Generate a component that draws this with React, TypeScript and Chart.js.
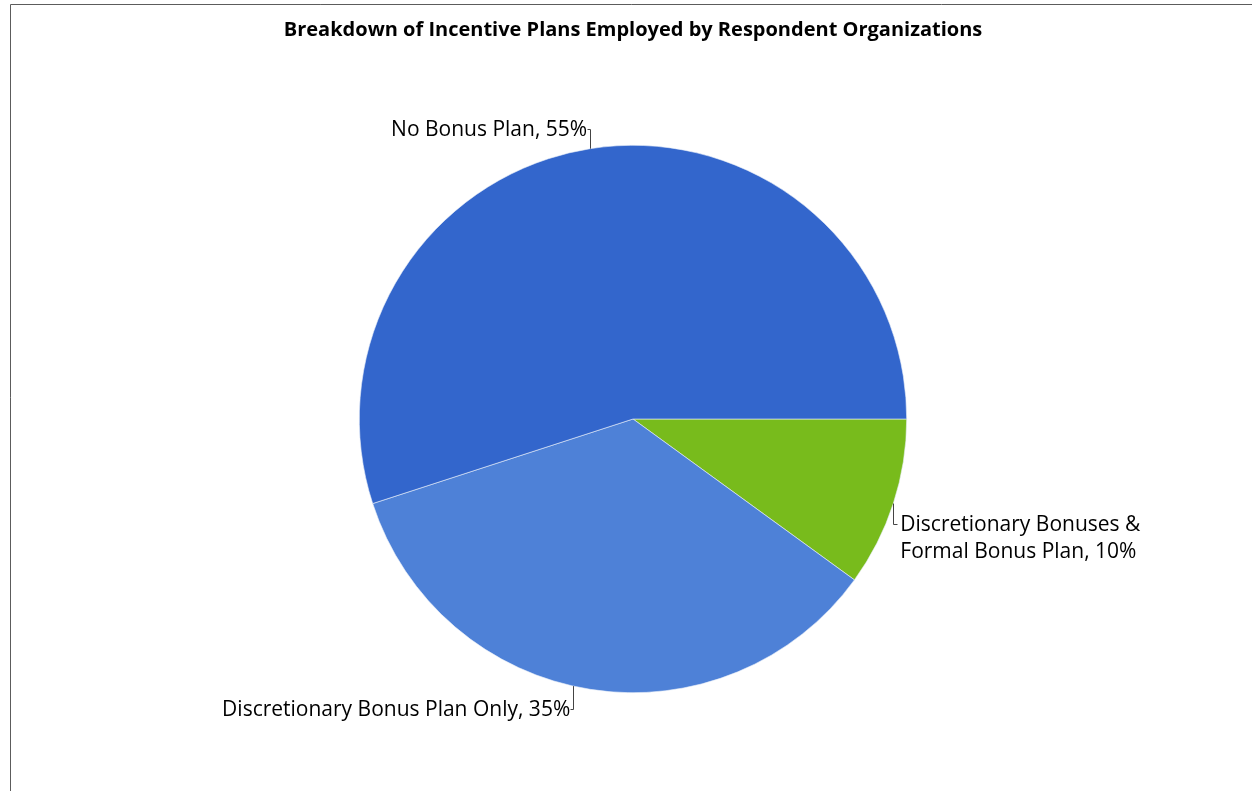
import React, { useEffect, useRef } from "react";
import { Chart, registerables } from "chart.js";

Chart.register(...registerables);

const TITLE = "Breakdown of Incentive Plans Employed by Respondent Organizations";
const categories = [
  "Discretionary Bonuses & Formal Bonus Plan",
  "Discretionary Bonus Plan Only",
  "No Bonus Plan",
];
const values = [10, 35, 55];
const labelLines = [
  ["Discretionary Bonuses &", "Formal Bonus Plan, 10%"],
  ["Discretionary Bonus Plan Only, 35%"],
  ["No Bonus Plan, 55%"],
];
const colors = ["#78BB1C", "#4E81D7", "#3366CC"];

const FONT = '"Open Sans", "Liberation Sans", sans-serif';

const decorPlugin = {
  id: "decor",
  afterDraw(chart: any) {
    const ctx = chart.ctx as CanvasRenderingContext2D;
    ctx.save();
    // frame
    ctx.strokeStyle = "#5c5c5c";
    ctx.lineWidth = 1;
    ctx.beginPath();
    ctx.moveTo(10.5, chart.height);
    ctx.lineTo(10.5, 4.5);
    ctx.lineTo(chart.width, 4.5);
    ctx.stroke();

    // title
    ctx.fillStyle = "#000";
    ctx.font = `bold 20px ${FONT}`;
    ctx.textAlign = "center";
    ctx.textBaseline = "middle";
    ctx.fillText(TITLE, 633, 30);

    // labels with leaders
    const meta = chart.getDatasetMeta(0);
    const layout = [
      { dir: 1, len: 20, side: "right", lh: 27, da: 0 },
      { dir: 1, len: 23, side: "left", lh: 27, da: 0.063 },
      { dir: -1, len: 20, side: "left", lh: 27, da: 0 },
    ];
    ctx.font = `21px ${FONT}`;
    meta.data.forEach((arc: any, i: number) => {
      const p = arc.getProps(["x", "y", "startAngle", "endAngle", "outerRadius"], true);
      const L = layout[i];
      const mid = (p.startAngle + p.endAngle) / 2 + L.da;
      const ax = p.x + Math.cos(mid) * p.outerRadius;
      const ay = p.y + Math.sin(mid) * p.outerRadius;
      const ey = ay + L.dir * L.len;
      const tick = L.side === "right" ? 4 : -3;
      ctx.strokeStyle = "#444";
      ctx.lineWidth = 1;
      ctx.beginPath();
      ctx.moveTo(Math.round(ax) + 0.5, ay);
      ctx.lineTo(Math.round(ax) + 0.5, Math.round(ey) + 0.5);
      ctx.lineTo(Math.round(ax) + 0.5 + tick, Math.round(ey) + 0.5);
      ctx.stroke();
      ctx.fillStyle = "#000";
      ctx.textBaseline = "middle";
      const lines = labelLines[i];
      if (L.side === "right") {
        ctx.textAlign = "left";
        lines.forEach((t, k) => ctx.fillText(t, ax + 7, ey + 1 + k * L.lh));
      } else {
        ctx.textAlign = "right";
        lines.forEach((t, k) => ctx.fillText(t, ax - 3, ey + 1 + k * L.lh));
      }
    });
    ctx.restore();
  },
};

export default function App() {
  const ref = useRef<HTMLCanvasElement | null>(null);
  useEffect(() => {
    if (!ref.current) return;
    const chart = new Chart(ref.current, {
      type: "pie",
      data: {
        labels: categories,
        datasets: [
          {
            data: values,
            backgroundColor: colors,
            borderColor: "#e8eef8",
            borderWidth: 0.6,
          },
        ],
      },
      options: {
        responsive: true,
        maintainAspectRatio: false,
        animation: false,
        rotation: 90,
        layout: { padding: { top: 145, bottom: 98, left: 359, right: 345 } },
        plugins: {
          legend: { display: false },
          title: { display: false },
          tooltip: { enabled: false },
        },
      },
      plugins: [decorPlugin],
    });
    return () => chart.destroy();
  }, []);
  return (
    <div style={{ position: "fixed", left: 0, top: 0, width: 1252, height: 791, background: "#fff" }}>
      <canvas ref={ref} />
    </div>
  );
}
